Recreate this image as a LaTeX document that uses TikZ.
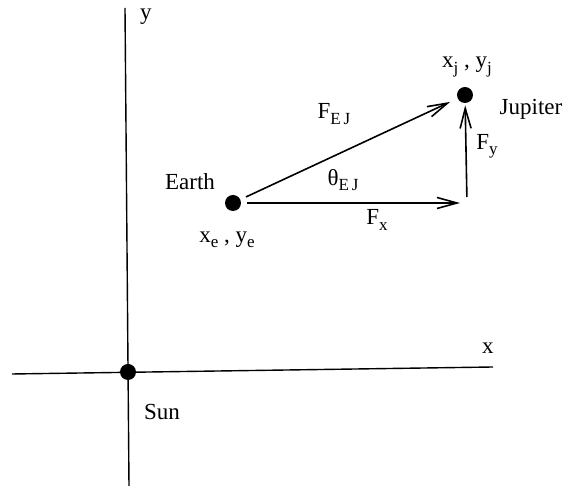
\documentclass[tikz,border=0pt]{standalone}
\usepackage{fontspec}
\setmainfont{Liberation Serif}
\usetikzlibrary{positioning}
\usetikzlibrary{arrows.meta}

\newcommand{\lowsub}[1]{\raisebox{-0.5ex}{\fontsize{8.5}{9}\selectfont #1}}

\begin{document}
\begin{tikzpicture}[
  x=0.5pt,y=-0.5pt,
  body/.style={circle,fill=black,inner sep=0pt,minimum size=8pt},
  axis/.style={line width=0.7pt},
  vec/.style={line width=0.8pt,-{Straight Barb[length=10pt,width=5.5pt]}},
  lbl/.style={font=\fontsize{11.5}{13}\selectfont,inner sep=1pt}]
\useasboundingbox (0,0) rectangle (570,486);
% axes
\coordinate (ytop) at (125,8);
\coordinate (ybot) at (129,486);
\coordinate (xleft) at (12,374);
\coordinate (xright) at (493,367);
\draw[axis] (ybot) -- (ytop);
\draw[axis] (xleft) -- (xright);
\node[lbl] (ylab) at (146,17) {y};
\node[lbl] (xlab) at (488,348) {x};
% bodies
\node[body] (sun) at (128,372) {};
\node[body] (earth) at (233,203) {};
\node[body] (jupiter) at (465,95) {};
\coordinate (corner) at (467,203);
\node[lbl] (sunlab) at (162,412) {Sun};
\node[lbl] (earthlab) at (190,182) {Earth};
\node[lbl] (earthpos) at (227,240) {x\lowsub{e} , y\lowsub{e}};
\node[lbl] (juplab) at (531,109) {Jupiter};
\node[lbl] (juppos) at (467,67) {x\lowsub{j} , y\lowsub{j}};
% force vectors
\draw[vec,shorten <=3pt,shorten >=4pt] (earth) -- (jupiter);
\draw[vec,shorten <=3pt,shorten >=3.5pt] (earth) -- (corner);
\draw[vec,shorten <=3pt,shorten >=1pt] (corner) -- (jupiter);
\node[lbl] (fej) at (334,114) {F\lowsub{E\,J}};
\node[lbl] (theta) at (343,180) {θ\lowsub{E\,J}};
\node[lbl] (fx) at (377,220) {F\lowsub{x}};
\node[lbl] (fy) at (487,146) {F\lowsub{y}};
\end{tikzpicture}
\end{document}
